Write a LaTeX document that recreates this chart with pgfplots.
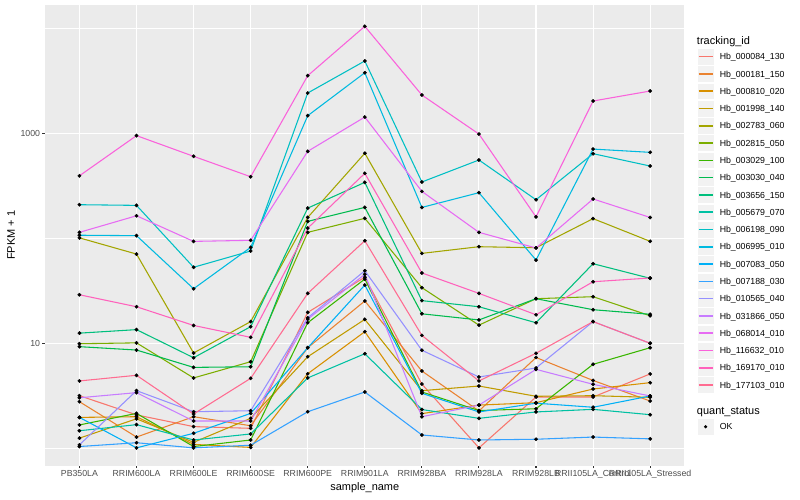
\documentclass[border=0pt]{standalone}
\usepackage{fontspec}
\setmainfont{Liberation Sans}
\usepackage{pgfplots}
\usepackage{pgfplotstable}
\pgfplotsset{compat=1.18}

\definecolor{c01}{HTML}{F8766D}
\definecolor{c02}{HTML}{EA8331}
\definecolor{c03}{HTML}{D89000}
\definecolor{c04}{HTML}{C09B00}
\definecolor{c05}{HTML}{A3A500}
\definecolor{c06}{HTML}{7CAE00}
\definecolor{c07}{HTML}{39B600}
\definecolor{c08}{HTML}{00BB4E}
\definecolor{c09}{HTML}{00BF7D}
\definecolor{c10}{HTML}{00C1A3}
\definecolor{c11}{HTML}{00BFC4}
\definecolor{c12}{HTML}{00BAE0}
\definecolor{c13}{HTML}{00B0F6}
\definecolor{c14}{HTML}{35A2FF}
\definecolor{c15}{HTML}{9590FF}
\definecolor{c16}{HTML}{C77CFF}
\definecolor{c17}{HTML}{E76BF3}
\definecolor{c18}{HTML}{FA62DB}
\definecolor{c19}{HTML}{FF62BC}
\definecolor{c20}{HTML}{FF6C91}
\definecolor{panelbg}{HTML}{EBEBEB}
\definecolor{keybg}{HTML}{F2F2F2}
\definecolor{grey20}{HTML}{333333}
\definecolor{grey30}{HTML}{4D4D4D}

% legend key: grey box with a coloured line
\newcommand{\keyline}[1]{\addlegendimage{legend image code/.code={
    \fill[keybg, draw=none] (0bp,-8.64bp) rectangle (17.28bp,8.64bp);
    \draw[white, fill=none, line width=0.53bp] (0.265bp,-8.375bp) rectangle (17.015bp,8.375bp);
    \draw[#1, fill=none, line width=1.6bp] (1.73bp,0bp) -- (15.55bp,0bp);}}}

% FPKM + 1 per sample (rows) and tracking id (columns s01..s20)
\pgfplotstableread{
x  s01  s02  s03  s04  s05  s06  s07  s08  s09  s10  s11  s12  s13  s14  s15  s16  s17  s18   s19  s20
0  3.17 2.78 1.97 1.25 101  9.91 1.67 9.29 12.5 1.47 209  107  1.97 1.04 1.08 3.03 114  394   29.0 4.38
1  2.08 1.28 2.00 1.91 70.8 10.1 2.15 8.63 13.5 1.68 206  106  1.01 1.13 3.54 3.39 164  951   22.3 4.96
2  1.61 2.00 1.09 1.14 8.09 4.68 1.04 5.90 7.29 1.20 53.0 33.1 1.39 1.01 2.23 1.82 93.5 604   14.8 2.12
3  1.55 1.64 1.02 1.93 16.1 6.68 1.20 5.98 14.4 1.37 75.7 82.0 2.15 1.07 2.28 1.82 95.7 386   11.4 4.64
4  19.7 9.08 5.13 7.45 158  114  15.7 145  194  4.68 2421 1472 9.08 2.23 17.5 17.0 674  3540  125  29.9
5  42.6 25.3 12.9 16.9 646  155  40.9 197  341  7.96 4887 3776 35.9 3.44 49.1 45.4 1429 10450 416  94.8
6  4.09 5.45 2.14 3.54 71.9 33.9 3.44 19.1 25.5 2.34 344  197  3.34 1.34 8.59 2.00 280  2317  46.8 11.9
7  1.01 2.27 2.58 3.92 83.2 14.9 2.29 16.7 22.3 1.93 557  272  2.22 1.20 4.78 2.58 114  984   29.9 4.38
8  3.08 7.33 2.72 3.13 81.3 26.6 2.38 26.6 15.7 2.22 233  62.1 2.69 1.22 5.82 5.65 80.9 160   18.7 8.04
9  3.08 4.43 3.67 3.17 154  27.8 6.31 20.9 57.3 2.35 640  708  2.46 1.28 16.1 4.07 237  2032  38.6 16.1
10 5.11 2.82 4.22 3.06 93.6 18.3 9.08 18.9 41.6 2.09 488  659  3.15 1.23 10.0 3.15 158  2529  41.9 10.0
}\data

\begin{document}
\begin{tikzpicture}
\path[use as bounding box] (0,0) rectangle (800bp,500bp);
\begin{axis}[
    at={(45.2bp,34.5bp)}, anchor=south west,
    scale only axis, width=639.2bp, height=460.3bp,
    xmin=-0.6, xmax=10.6,
    ymode=log, ymin=0.686, ymax=16610,
    axis background/.style={fill=panelbg},
    axis line style={draw=none},
    xtick={0,...,10},
    xticklabels={PB350LA,RRIM600LA,RRIM600LE,RRIM600SE,RRIM600PE,RRIM901LA,RRIM928BA,RRIM928LA,RRIM928LB,RRII105LA\_Control,RRII105LA\_Stressed},
    ytick={10,1000}, yticklabels={\mbox{10},\mbox{1000}},
    minor ytick={1,100,10000},
    xmajorgrids, ymajorgrids, yminorgrids,
    major grid style={white, line width=1.07bp},
    minor grid style={white, line width=0.53bp},
    tick align=outside, major tick length=2.75bp, minor tick length=0pt,
    tick style={color=grey20, line width=1.07bp},
    xtick pos=left, ytick pos=left,
    xticklabel style={font=\fontsize{8.8}{10}\selectfont, text=grey30, inner sep=0pt, yshift=-2.2bp},
    yticklabel style={font=\fontsize{8.8}{10}\selectfont, text=grey30, inner sep=0pt, xshift=-2.2bp},
    xlabel={sample\_name}, ylabel={FPKM + 1},
    every axis x label/.style={at={(axis description cs:0.5,-0.0489)}, anchor=center, font=\fontsize{11}{13}\selectfont},
    every axis y label/.style={at={(axis description cs:-0.0535,0.5)}, rotate=90, anchor=center, font=\fontsize{11}{13}\selectfont},
    legend style={at={(axis description cs:1.0197,0.93885)}, anchor=north west,
        draw=none, fill=none, inner sep=0pt, outer sep=0pt, row sep=0pt, column sep=5.5bp,
        font=\fontsize{8.8}{10}\selectfont, nodes={inner sep=0pt, text depth=0pt}},
    legend cell align=left,
]
\addlegendimage{legend image code/.code={\path[draw=none, fill=none] (0bp,-7.35bp) rectangle (17.28bp,7.35bp);}}
\addlegendentry{\fontsize{11}{13}\selectfont\hspace*{-22.78bp}tracking\_id}
\keyline{c01} \addlegendentry{Hb\_000084\_130}
\keyline{c02} \addlegendentry{Hb\_000181\_150}
\keyline{c03} \addlegendentry{Hb\_000810\_020}
\keyline{c04} \addlegendentry{Hb\_001998\_140}
\keyline{c05} \addlegendentry{Hb\_002783\_060}
\keyline{c06} \addlegendentry{Hb\_002815\_050}
\keyline{c07} \addlegendentry{Hb\_003029\_100}
\keyline{c08} \addlegendentry{Hb\_003030\_040}
\keyline{c09} \addlegendentry{Hb\_003656\_150}
\keyline{c10} \addlegendentry{Hb\_005679\_070}
\keyline{c11} \addlegendentry{Hb\_006198\_090}
\keyline{c12} \addlegendentry{Hb\_006995\_010}
\keyline{c13} \addlegendentry{Hb\_007083\_050}
\keyline{c14} \addlegendentry{Hb\_007188\_030}
\keyline{c15} \addlegendentry{Hb\_010565\_040}
\keyline{c16} \addlegendentry{Hb\_031866\_050}
\keyline{c17} \addlegendentry{Hb\_068014\_010}
\keyline{c18} \addlegendentry{Hb\_116632\_010}
\keyline{c19} \addlegendentry{Hb\_169170\_010}
\keyline{c20} \addlegendentry{Hb\_177103\_010}
\addlegendimage{legend image code/.code={\path[draw=none, fill=none] (0bp,-6.7bp) rectangle (17.28bp,17.7bp);}}
\addlegendentry{\fontsize{11}{13}\selectfont\hspace*{-22.78bp}quant\_status}
\addlegendimage{legend image code/.code={
    \fill[keybg, draw=none] (0bp,-8.64bp) rectangle (17.28bp,8.64bp);
    \draw[white, fill=none, line width=0.53bp] (0.265bp,-8.375bp) rectangle (17.015bp,8.375bp);
    \fill[black, draw=none] (8.64bp,0bp) circle (1.7bp);}}
\addlegendentry{OK}

\pgfplotsinvokeforeach{01,02,03,04,05,06,07,08,09,10,11,12,13,14,15,16,17,18,19,20}{
  \addplot[color=c#1, line width=1.07bp, forget plot] table[x=x, y=s#1] {\data};
}
\pgfplotsinvokeforeach{01,02,03,04,05,06,07,08,09,10,11,12,13,14,15,16,17,18,19,20}{
  \addplot[only marks, mark=*, mark size=1.7bp, black, forget plot] table[x=x, y=s#1] {\data};
}
\end{axis}
\end{tikzpicture}
\end{document}
